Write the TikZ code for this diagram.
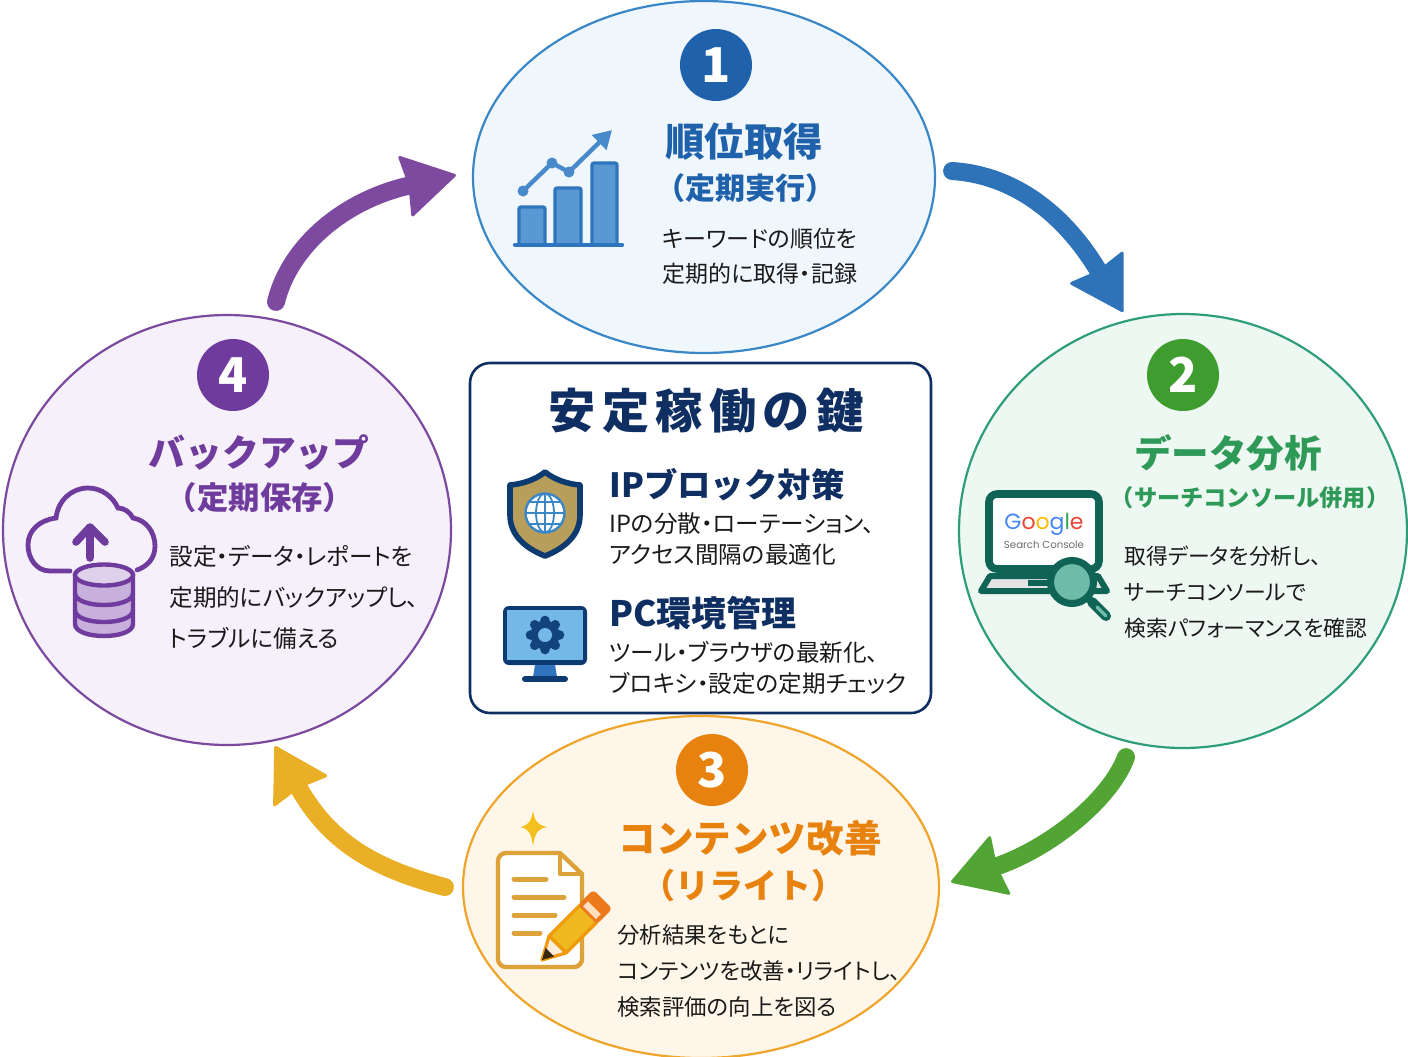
\documentclass[tikz,border=0pt]{standalone}
\usepackage{fontspec}
\usetikzlibrary{shapes.geometric,arrows.meta,calc}
\setmainfont{Noto Sans CJK JP}
\newfontfamily\latinsans{Poppins}
\definecolor{blueA}{HTML}{1F62AB}\definecolor{blueL}{HTML}{3A87C8}\definecolor{blueF}{HTML}{EFF6FC}
\definecolor{blueBar}{HTML}{2F75BD}\definecolor{blueBarF}{HTML}{5A98D4}
\definecolor{greenA}{HTML}{2F9A58}\definecolor{greenL}{HTML}{2E9E78}\definecolor{greenF}{HTML}{EEF8F2}
\definecolor{greenN}{HTML}{3F9C2E}\definecolor{greenD}{HTML}{0F6455}\definecolor{greenM}{HTML}{6FBBAA}
\definecolor{orangeA}{HTML}{E8820E}\definecolor{orangeL}{HTML}{EFA52A}\definecolor{orangeF}{HTML}{FEF6E8}
\definecolor{docL}{HTML}{DDA23A}\definecolor{pencilY}{HTML}{EFB91F}\definecolor{pencilC}{HTML}{EC7A1C}
\definecolor{purpleA}{HTML}{6F3C9E}\definecolor{purpleL}{HTML}{7B4A9E}\definecolor{purpleF}{HTML}{F6F0FA}\definecolor{purpleM}{HTML}{C8B0DC}
\definecolor{navy}{HTML}{0F2F63}\definecolor{navyB}{HTML}{0D3A70}\definecolor{gold}{HTML}{B79E5A}\definecolor{sky}{HTML}{74B8E8}
\definecolor{txt}{HTML}{1A1A1A}
\definecolor{arrB}{HTML}{2E72B8}\definecolor{arrG}{HTML}{52A535}\definecolor{arrY}{HTML}{E9B027}\definecolor{arrP}{HTML}{7E4AA0}
\tikzset{
 x=0.5pt,y=-0.5pt,
 phase/.style={ellipse,draw=#1,line width=1.1pt,inner sep=0pt},
 num/.style={circle,fill=#1,text=white,inner sep=0pt,minimum size=36pt,font=\bfseries\fontsize{24}{24}\selectfont},
 ttl/.style 2 args={text=#1,inner sep=0pt,font=\bfseries\fontsize{#2}{24}\selectfont},
 body/.style 2 args={text=txt,inner sep=0pt,anchor=west,align=left,font=\fontsize{#1}{#2}\selectfont\addfontfeature{RawFeature=+palt}},
 flow/.style={draw=#1,line width=9pt,line cap=round,-{Stealth[length=27pt,width=32pt,inset=2pt,round,line width=1.5pt,fill=#1]}},
 head/.style={text=navy,inner sep=0pt,anchor=west,font=\bfseries\fontsize{#1}{20}\selectfont},
 box/.style={draw=navy,line width=1.3pt,rounded corners=10pt,fill=white,inner sep=0pt},
}
\begin{document}
\begin{tikzpicture}
\useasboundingbox (0,0) rectangle (1408,1056);
\fill[white] (0,0) rectangle (1408,1056);
% phases
\node[phase=blueL,fill=blueF,minimum width=231pt,minimum height=176pt] (n1) at (704,177) {};
\node[phase=greenL,fill=greenF,minimum width=224pt,minimum height=217pt] (n2) at (1183,531) {};
\node[phase=orangeL,fill=orangeF,minimum width=238pt,minimum height=171pt] (n3) at (701,887) {};
\node[phase=purpleL,fill=purpleF,minimum width=224pt,minimum height=215pt] (n4) at (227,530) {};
% connectors
\draw[flow=arrB] ($(n1.east)+(16,-6)$) .. controls (1015,175) and (1065,215) .. ($(n2.north)+(-60,-1)$);
\draw[flow=arrG] ($(n2.south)+(-57,8)$) .. controls (1110,800) and (1050,848) .. ($(n3.east)+(11,-5)$);
\draw[flow=arrY] ($(n3.west)+(-17,0)$) .. controls (372,868) and (329,841) .. ($(n4.south)+(48,0)$);
\draw[flow=arrP] ($(n4.north)+(49,-12)$) .. controls (290,245) and (345,200) .. ($(n1.west)+(-16,-2)$);
% numbers
\node[num=blueA] (c1) at (716,65) {1};
\node[num=greenN] (c2) at (1183,375) {2};
\node[num=orangeA] (c3) at (712,770) {3};
\node[num=purpleA] (c4) at (233,375) {4};
% phase 1 text
\node[ttl={blueA}{19.7}] (t1) at (744,142) {順位取得};
\node[ttl={blueA}{15}] (s1) at (745,188) {（定期実行）};
\node[body={11.5}{17.5}] (b1) at (662,256) {キーワードの順位を\\定期的に取得・記録};
% phase 2 text
\node[ttl={greenA}{18.8}] (t2) at (1228,453) {データ分析};
\node[ttl={greenA}{11.6}] (s2) at (1250,498) {（サーチコンソール併用）};
\node[body={10.9}{18}] (b2) at (1124,592) {取得データを分析し、\\サーチコンソールで\\検索パフォーマンスを確認};
% phase 3 text
\node[ttl={orangeA}{18.8}] (t3) at (750,838) {コンテンツ改善};
\node[ttl={orangeA}{17}] (s3) at (743,886) {（リライト）};
\node[body={11.2}{18}] (b3) at (617,971) {分析結果をもとに\\コンテンツを改善・リライトし、\\検索評価の向上を図る};
% phase 4 text
\node[ttl={purpleA}{18.4}] (t4) at (259,452) {バックアップ};
\node[ttl={purpleA}{15.7}] (s4) at (260,498) {（定期保存）};
\node[body={11.8}{20.5}] (b4) at (169,597) {設定・データ・レポートを\\定期的にバックアップし、\\トラブルに備える};
% centre box
\node[box,minimum width=230.5pt,minimum height=175pt] (keybox) at (700.5,538) {};
\node[text=navy,inner sep=0pt,font=\bfseries\fontsize{23.6}{28}\selectfont\addfontfeature{LetterSpace=13.5}] (kt) at (706,411) {安定稼働の鍵};
\node[head=16.7] (h1) at (609,485) {IPブロック対策};
\node[body={11.8}{15.5}] (hb1) at (609,539.5) {IPの分散・ローテーション、\\アクセス間隔の最適化};
\node[head=17.5] (h2) at (609,613) {PC環境管理};
\node[body={11.8}{15.5}] (hb2) at (609,667.5) {ツール・ブラウザの最新化、\\ブロキシ・設定の定期チェック};
% ---- icon 1: chart
\begin{scope}
\foreach \xa/\xb/\yt in {519/545/207,555/581/188,592/617/163}{
 \draw[draw=blueBar,fill=blueBarF,line width=1.6pt,rounded corners=1pt] (\xa,245) -- (\xa,\yt) -- (\xb,\yt) -- (\xb,245);
}
\draw[blueBar,line width=2.2pt,line cap=round] (515,245) -- (622,245);
\draw[blueBarF!60!blueBar,line width=2.2pt,-{Triangle[length=9pt,width=10pt]}] (523,191) -- (552,163) -- (569,172) -- (612,130);
\foreach \px/\py in {523/191,552/163,569/172}{\fill[blueBarF!60!blueBar] (\px,\py) circle[radius=5.5];}
\end{scope}
% ---- icon 2: laptop
\begin{scope}
\draw[greenD,line width=3.8pt,fill=white,rounded corners=4pt] (989,494) rectangle (1099,569);
\draw[greenD,line width=3pt,fill=gray!22,line join=round] (990,576) -- (1098,576) -- (1107,591) -- (981,591) -- cycle;
\draw[greenD,line width=3pt] (1028,583) -- (1060,583);
\node[inner sep=0pt,font=\latinsans\fontsize{11}{14}\selectfont] (gl) at (1044,524) {\textcolor[HTML]{4285F4}{G}\textcolor[HTML]{EA4335}{o}\textcolor[HTML]{FBBC05}{o}\textcolor[HTML]{4285F4}{g}\textcolor[HTML]{34A853}{l}\textcolor[HTML]{EA4335}{e}};
\node[inner sep=0pt,text=gray!85!black,font=\latinsans\fontsize{5.1}{7}\selectfont] (gs) at (1044,545) {Search Console};
\draw[greenD,line width=5pt,line cap=round] (1092,602) -- (1106,616);
\draw[greenM,line width=1.6pt,line cap=round] (1097,607) -- (1106,616);
\draw[greenD,line width=3.5pt,fill=greenM] (1072,582) circle[radius=21.5];
\end{scope}
% ---- icon 3: document
\begin{scope}
\draw[docL,line width=2.2pt,fill=white,line join=round] (582,874) [rounded corners=4pt] -- (582,967) -- (498,967) -- (498,853) [sharp corners] -- (560,853) -- cycle;
\draw[docL,line width=2.2pt,line join=round] (560,853) -- (560,874) -- (582,874);
\draw[docL,line width=2.5pt,line cap=round] (514,879) -- (546,879) (514,897) -- (564,897) (514,915) -- (555,915) (514,933) -- (540,933);
\fill[orangeL!70!yellow] (533,811) .. controls (535,822) and (538,825) .. (547,827) .. controls (538,829) and (535,832) .. (533,846) .. controls (531,832) and (528,829) .. (521,827) .. controls (528,825) and (531,822) .. (533,811) -- cycle;
\begin{scope}[shift={(542,960)},x={(.3536pt,.3536pt)},y={(.3536pt,-.3536pt)}]
 \draw[draw=orangeA!80!yellow,fill=pencilY,line width=1.6pt,line join=round] (22,-12) -- (66,-12) -- (66,12) -- (22,12) -- cycle;
 \draw[draw=orangeA!80!yellow,fill=orange!15,line width=1.6pt,line join=round] (0,0) -- (22,-12) -- (22,12) -- cycle;
 \fill[black!70!brown] (0,0) -- (11,-6) -- (11,6) -- cycle;
 \fill[pencilC,rounded corners=2pt] (64,-13.5) -- (86,-13.5) -- (86,13.5) -- (64,13.5) -- cycle;
 \fill[orange!25] (67,-9) -- (74,-9) -- (74,9) -- (67,9) -- cycle;
\end{scope}
\end{scope}
% ---- icon 4: cloud and database
\begin{scope}
\draw[purpleA,line width=2.4pt,line cap=round] (70,571) -- (50,571) .. controls (36,571) and (28,558) .. (28,545) .. controls (28,530) and (40,520) .. (56,518) .. controls (58,500) and (72,488) .. (88,488) .. controls (102,488) and (113,497) .. (118,508) .. controls (124,508) and (130,512) .. (133,518) .. controls (146,520) and (155,532) .. (155,546) .. controls (155,558) and (148,566) .. (137,570);
\draw[purpleA,line width=3.8pt,line join=round,line cap=round] (90,558) -- (90,527) (76,542) -- (90,527) -- (105,542);
\draw[purpleA,line width=2.2pt,fill=purpleM] (75,575) -- (75,624) .. controls (75,640) and (133,640) .. (133,624) -- (133,575) -- cycle;
\draw[purpleA,line width=2.2pt,fill=purpleM!60] (104,575) ellipse[x radius=29,y radius=10.5];
\draw[purpleA,line width=2.2pt] (75,593) .. controls (75,609) and (133,609) .. (133,593);
\draw[purpleA,line width=2.2pt] (75,610) .. controls (75,626) and (133,626) .. (133,610);
\end{scope}
% ---- shield
\begin{scope}
\draw[navyB,line width=2.8pt,fill=gold,line join=round] (545,472) .. controls (555,480) and (568,484) .. (580,485) -- (580,515) .. controls (580,535) and (565,548) .. (545,556) .. controls (525,548) and (510,535) .. (510,515) -- (510,485) .. controls (522,484) and (535,480) .. (545,472) -- cycle;
\draw[blueL,line width=1.2pt,fill=white] (545,513) circle[radius=19.5];
\draw[blueL,line width=.9pt] (545,513) ellipse[x radius=9,y radius=19.5] (545,493.5) -- (545,532.5) (525.5,513) -- (564.5,513) (529,502) -- (561,502) (529,524) -- (561,524);
\end{scope}
% ---- monitor
\begin{scope}
\fill[navyB,rounded corners=3pt] (503,606) rectangle (587,665);
\fill[sky] (507,610) rectangle (583,660);
\fill[blueBar] (535,665) -- (555,665) -- (557,677) -- (533,677) -- cycle;
\draw[navyB,line width=3pt,line cap=round] (525,679) -- (565,679);
\foreach \a in {0,45,...,315}{\fill[navyB!85!blueBar] ({545+14.5*cos(\a)},{635+14.5*sin(\a)}) circle[radius=4.8];}
\fill[navyB!85!blueBar] (545,635) circle[radius=14.5];
\fill[sky] (545,635) circle[radius=7];
\end{scope}
\end{tikzpicture}
\end{document}
